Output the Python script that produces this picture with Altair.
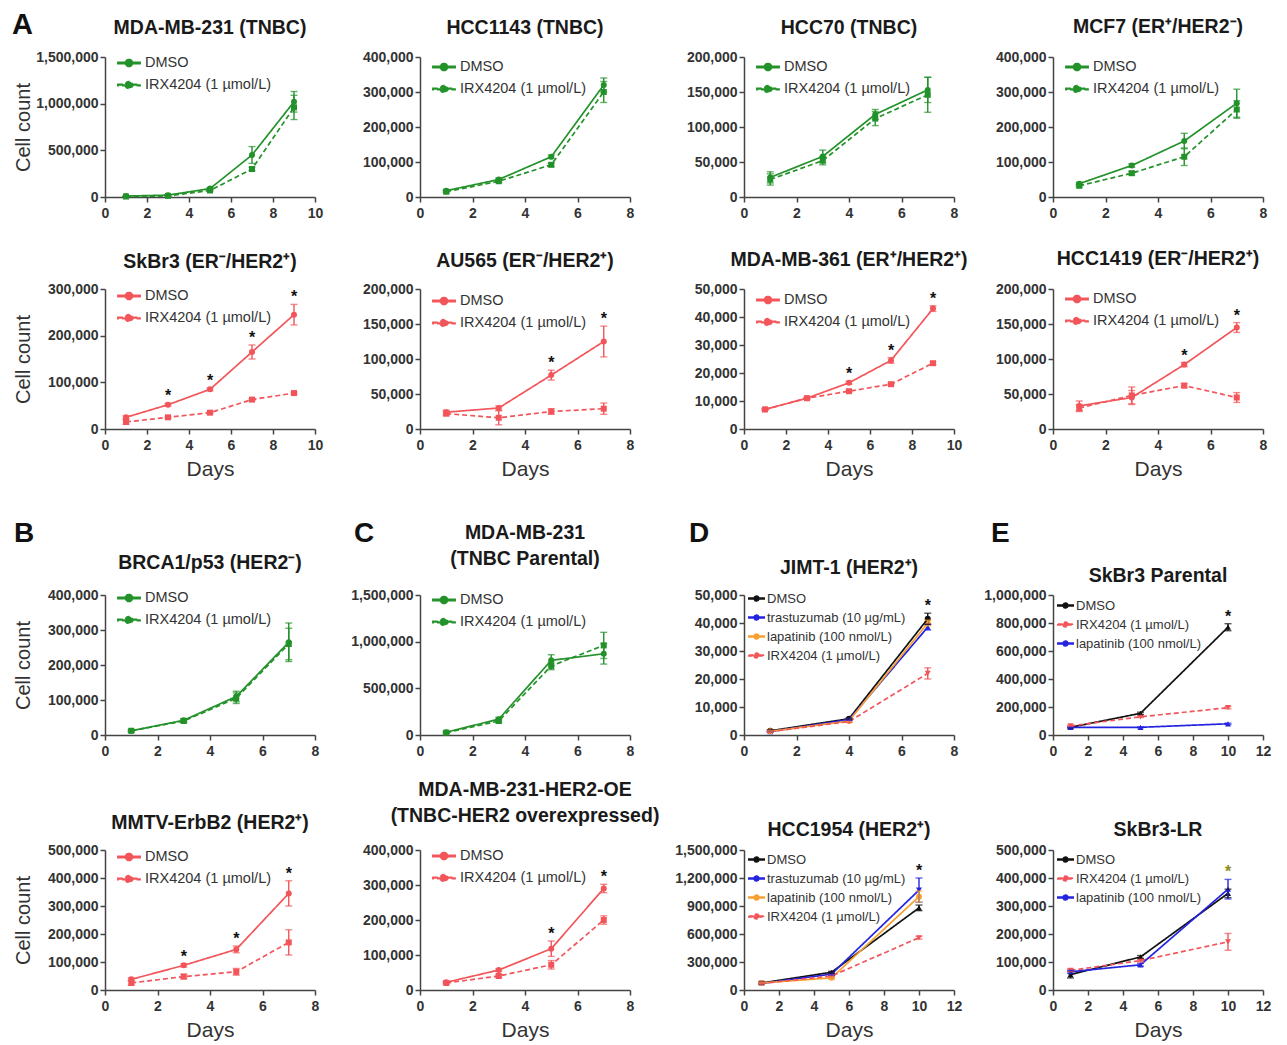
import altair as alt
import pandas as pd

FONT = "Liberation Sans"
GREEN = "#23922a"
RED = "#f2555a"
BLUE = "#2424e0"
ORANGE = "#f7a030"
BLACK = "#111111"
OLIVE = "#8c8c20"

# ---------------- data ----------------
DAYS_5 = [1, 3, 5, 7, 9]
DAYS_4 = [1, 3, 5, 7]
DAYS_JIMT = [1, 4, 7]
DAYS_3 = [1, 5, 10]

# A, row 1
MDA231_DMSO = [10000, 20000, 90000, 450000, 1020000]
MDA231_DMSO_ERR = [3000, 5000, 10000, 90000, 110000]
MDA231_IRX = [5000, 12000, 70000, 300000, 960000]
MDA231_IRX_ERR = [3000, 4000, 10000, 20000, 130000]

HCC1143_DMSO = [18000, 50000, 115000, 320000]
HCC1143_DMSO_ERR = [3000, 4000, 5000, 20000]
HCC1143_IRX = [15000, 45000, 92000, 300000]
HCC1143_IRX_ERR = [3000, 4000, 5000, 30000]

HCC70_DMSO = [28000, 58000, 118000, 153000]
HCC70_DMSO_ERR = [8000, 9000, 7000, 18000]
HCC70_IRX = [25000, 52000, 112000, 146000]
HCC70_IRX_ERR = [8000, 6000, 10000, 25000]

MCF7_DMSO = [38000, 90000, 160000, 268000]
MCF7_DMSO_ERR = [4000, 5000, 22000, 40000]
MCF7_IRX = [32000, 68000, 115000, 250000]
MCF7_IRX_ERR = [4000, 5000, 25000, 25000]

# A, row 2
SKBR3_DMSO = [25000, 52000, 85000, 165000, 245000]
SKBR3_DMSO_ERR = [3000, 3000, 3000, 15000, 22000]
SKBR3_IRX = [15000, 25000, 35000, 63000, 77000]
SKBR3_IRX_ERR = [5000, 2000, 2000, 2000, 2000]
SKBR3_STARS = [3, 5, 7, 9]

AU565_DMSO = [24000, 30000, 77000, 125000]
AU565_DMSO_ERR = [3000, 3000, 7000, 22000]
AU565_IRX = [22000, 16000, 25000, 29000]
AU565_IRX_ERR = [3000, 10000, 4000, 8000]
AU565_STARS = [5, 7]

MDA361_DMSO = [7000, 11000, 16500, 24500, 43000]
MDA361_DMSO_ERR = [300, 300, 500, 1000, 1000]
MDA361_IRX = [7000, 11000, 13500, 16000, 23500]
MDA361_IRX_ERR = [300, 300, 300, 300, 500]
MDA361_STARS = [5, 7, 9]

HCC1419_DMSO = [33000, 45000, 92000, 145000]
HCC1419_DMSO_ERR = [7000, 10000, 3000, 7000]
HCC1419_IRX = [30000, 48000, 62000, 45000]
HCC1419_IRX_ERR = [5000, 12000, 3000, 7000]
HCC1419_STARS = [5, 7]

# B
BRCA_DMSO = [12000, 42000, 110000, 265000]
BRCA_DMSO_ERR = [3000, 5000, 15000, 55000]
BRCA_IRX = [12000, 40000, 105000, 260000]
BRCA_IRX_ERR = [3000, 5000, 15000, 45000]

MMTV_DMSO = [38000, 88000, 145000, 345000]
MMTV_DMSO_ERR = [5000, 6000, 12000, 45000]
MMTV_IRX = [25000, 48000, 65000, 170000]
MMTV_IRX_ERR = [8000, 8000, 12000, 45000]
MMTV_STARS = [3, 5, 7]

# C
PAR231_DMSO = [30000, 170000, 800000, 870000]
PAR231_DMSO_ERR = [10000, 20000, 60000, 110000]
PAR231_IRX = [25000, 150000, 740000, 960000]
PAR231_IRX_ERR = [10000, 20000, 40000, 140000]

OE_DMSO = [22000, 57000, 118000, 290000]
OE_DMSO_ERR = [3000, 4000, 22000, 12000]
OE_IRX = [20000, 40000, 72000, 200000]
OE_IRX_ERR = [3000, 4000, 12000, 12000]
OE_STARS = [5, 7]

# D
JIMT_DMSO = [1500, 5800, 41500]
JIMT_DMSO_ERR = [300, 300, 2000]
JIMT_TRA = [1200, 5500, 38500]
JIMT_TRA_ERR = [200, 300, 1000]
JIMT_LAP = [1300, 5000, 40000]
JIMT_LAP_ERR = [200, 300, 1000]
JIMT_IRX = [1200, 4800, 22000]
JIMT_IRX_ERR = [200, 300, 2000]
JIMT_STARS = [7]

HCC1954_DMSO = [75000, 190000, 880000]
HCC1954_DMSO_ERR = [8000, 10000, 30000]
HCC1954_TRA = [70000, 170000, 1070000]
HCC1954_TRA_ERR = [5000, 10000, 130000]
HCC1954_LAP = [75000, 130000, 1000000]
HCC1954_LAP_ERR = [5000, 15000, 60000]
HCC1954_IRX = [70000, 150000, 560000]
HCC1954_IRX_ERR = [5000, 10000, 15000]
HCC1954_STARS = [10]

# E
SKPAR_DMSO = [55000, 155000, 770000]
SKPAR_DMSO_ERR = [5000, 8000, 25000]
SKPAR_IRX = [65000, 130000, 195000]
SKPAR_IRX_ERR = [5000, 5000, 8000]
SKPAR_LAP = [55000, 55000, 80000]
SKPAR_LAP_ERR = [3000, 3000, 5000]
SKPAR_STARS = [10]

SKLR_DMSO = [55000, 118000, 345000]
SKLR_DMSO_ERR = [12000, 5000, 15000]
SKLR_IRX = [70000, 105000, 172000]
SKLR_IRX_ERR = [5000, 5000, 30000]
SKLR_LAP = [65000, 90000, 360000]
SKLR_LAP_ERR = [5000, 5000, 35000]
SKLR_STARS = [10]

L_DMSO = "DMSO"
L_IRX = "IRX4204 (1 µmol/L)"
L_TRA = "trastuzumab (10 µg/mL)"
L_LAP = "lapatinib (100 nmol/L)"

SOLID = [1, 0]
DASH = [5, 3]

X8 = [0, 2, 4, 6, 8]
X10 = [0, 2, 4, 6, 8, 10]
X12 = [0, 2, 4, 6, 8, 10, 12]


def two(color, dmso, dmso_err, irx, irx_err):
    return [
        dict(name=L_DMSO, color=color, dash=SOLID, shape="circle", values=dmso, errors=dmso_err),
        dict(name=L_IRX, color=color, dash=DASH, shape="square", values=irx, errors=irx_err),
    ]


PANELS = {
    "p1": dict(title="MDA-MB-231 (TNBC)", days=DAYS_5, xmax=10, xticks=X10, ymax=1500000,
               yticks=[0, 500000, 1000000, 1500000],
               series=two(GREEN, MDA231_DMSO, MDA231_DMSO_ERR, MDA231_IRX, MDA231_IRX_ERR),
               stars=[], ytitle=True, xtitle=False, offset=12, small=False, ly=-6),
    "p2": dict(title="HCC1143 (TNBC)", days=DAYS_4, xmax=8, xticks=X8, ymax=400000,
               yticks=[0, 100000, 200000, 300000, 400000],
               series=two(GREEN, HCC1143_DMSO, HCC1143_DMSO_ERR, HCC1143_IRX, HCC1143_IRX_ERR),
               stars=[], ytitle=False, xtitle=False, offset=12, small=False, ly=-2),
    "p3": dict(title="HCC70 (TNBC)", days=DAYS_4, xmax=8, xticks=X8, ymax=200000,
               yticks=[0, 50000, 100000, 150000, 200000],
               series=two(GREEN, HCC70_DMSO, HCC70_DMSO_ERR, HCC70_IRX, HCC70_IRX_ERR),
               stars=[], ytitle=False, xtitle=False, offset=12, small=False, ly=-2),
    "p4": dict(title="MCF7 (ER⁺/HER2⁻)", days=DAYS_4, xmax=8, xticks=X8, ymax=400000,
               yticks=[0, 100000, 200000, 300000, 400000],
               series=two(GREEN, MCF7_DMSO, MCF7_DMSO_ERR, MCF7_IRX, MCF7_IRX_ERR),
               stars=[], ytitle=False, xtitle=False, offset=13, small=False, ly=-2),
    "p5": dict(title="SkBr3 (ER⁻/HER2⁺)", days=DAYS_5, xmax=10, xticks=X10, ymax=300000,
               yticks=[0, 100000, 200000, 300000],
               series=two(RED, SKBR3_DMSO, SKBR3_DMSO_ERR, SKBR3_IRX, SKBR3_IRX_ERR),
               stars=SKBR3_STARS, ytitle=True, xtitle=True, offset=10, small=False, ly=-5),
    "p6": dict(title="AU565 (ER⁻/HER2⁺)", days=DAYS_4, xmax=8, xticks=X8, ymax=200000,
               yticks=[0, 50000, 100000, 150000, 200000],
               series=two(RED, AU565_DMSO, AU565_DMSO_ERR, AU565_IRX, AU565_IRX_ERR),
               stars=AU565_STARS, ytitle=False, xtitle=True, offset=11, small=False, ly=0),
    "p7": dict(title="MDA-MB-361 (ER⁺/HER2⁺)", days=DAYS_5, xmax=10, xticks=X10, ymax=50000,
               yticks=[0, 10000, 20000, 30000, 40000, 50000],
               series=two(RED, MDA361_DMSO, MDA361_DMSO_ERR, MDA361_IRX, MDA361_IRX_ERR),
               stars=MDA361_STARS, ytitle=False, xtitle=True, offset=12, small=False, ly=-1),
    "p8": dict(title="HCC1419 (ER⁻/HER2⁺)", days=DAYS_4, xmax=8, xticks=X8, ymax=200000,
               yticks=[0, 50000, 100000, 150000, 200000],
               series=two(RED, HCC1419_DMSO, HCC1419_DMSO_ERR, HCC1419_IRX, HCC1419_IRX_ERR),
               stars=HCC1419_STARS, ytitle=False, xtitle=True, offset=13, small=False, ly=-2),
    "p9": dict(title="BRCA1/p53 (HER2⁻)", days=DAYS_4, xmax=8, xticks=X8, ymax=400000,
               yticks=[0, 100000, 200000, 300000, 400000],
               series=two(GREEN, BRCA_DMSO, BRCA_DMSO_ERR, BRCA_IRX, BRCA_IRX_ERR),
               stars=[], ytitle=True, xtitle=False, offset=13, small=False, ly=-9),
    "p10": dict(title=["MDA-MB-231", "(TNBC Parental)"], days=DAYS_4, xmax=8, xticks=X8, ymax=1500000,
                yticks=[0, 500000, 1000000, 1500000],
                series=two(GREEN, PAR231_DMSO, PAR231_DMSO_ERR, PAR231_IRX, PAR231_IRX_ERR),
                stars=[], ytitle=False, xtitle=False, offset=19, small=False, ly=-7),
    "p11": dict(title="JIMT-1 (HER2⁺)", days=DAYS_JIMT, xmax=8, xticks=X8, ymax=50000,
                yticks=[0, 10000, 20000, 30000, 40000, 50000],
                series=[
                    dict(name=L_DMSO, color=BLACK, dash=SOLID, shape="circle", values=JIMT_DMSO, errors=JIMT_DMSO_ERR),
                    dict(name=L_TRA, color=BLUE, dash=SOLID, shape="triangle-up", values=JIMT_TRA, errors=JIMT_TRA_ERR),
                    dict(name=L_LAP, color=ORANGE, dash=SOLID, shape="circle", values=JIMT_LAP, errors=JIMT_LAP_ERR),
                    dict(name=L_IRX, color=RED, dash=DASH, shape="triangle-down", values=JIMT_IRX, errors=JIMT_IRX_ERR),
                ],
                stars=JIMT_STARS, ytitle=False, xtitle=False, offset=10, small=True, ly=-5),
    "p12": dict(title="SkBr3 Parental", days=DAYS_3, xmax=12, xticks=X12, ymax=1000000,
                yticks=[0, 200000, 400000, 600000, 800000, 1000000],
                series=[
                    dict(name=L_DMSO, color=BLACK, dash=SOLID, shape="triangle-up", values=SKPAR_DMSO, errors=SKPAR_DMSO_ERR),
                    dict(name=L_IRX, color=RED, dash=DASH, shape="triangle-down", values=SKPAR_IRX, errors=SKPAR_IRX_ERR),
                    dict(name=L_LAP, color=BLUE, dash=SOLID, shape="triangle-up", values=SKPAR_LAP, errors=SKPAR_LAP_ERR),
                ],
                stars=SKPAR_STARS, ytitle=False, xtitle=False, offset=2, small=True, ly=2),
    "p13": dict(title="MMTV-ErbB2 (HER2⁺)", days=DAYS_4, xmax=8, xticks=X8, ymax=500000,
                yticks=[0, 100000, 200000, 300000, 400000, 500000],
                series=two(RED, MMTV_DMSO, MMTV_DMSO_ERR, MMTV_IRX, MMTV_IRX_ERR),
                stars=MMTV_STARS, ytitle=True, xtitle=True, offset=10, small=False, ly=-5),
    "p14": dict(title=["MDA-MB-231-HER2-OE", "(TNBC-HER2 overexpressed)"], days=DAYS_4, xmax=8, xticks=X8,
                ymax=400000, yticks=[0, 100000, 200000, 300000, 400000],
                series=two(RED, OE_DMSO, OE_DMSO_ERR, OE_IRX, OE_IRX_ERR),
                stars=OE_STARS, ytitle=False, xtitle=True, offset=17, small=False, ly=-6),
    "p15": dict(title="HCC1954 (HER2⁺)", days=DAYS_3, xmax=12, xticks=X12, ymax=1500000,
                yticks=[0, 300000, 600000, 900000, 1200000, 1500000],
                series=[
                    dict(name=L_DMSO, color=BLACK, dash=SOLID, shape="triangle-up", values=HCC1954_DMSO, errors=HCC1954_DMSO_ERR),
                    dict(name=L_TRA, color=BLUE, dash=SOLID, shape="triangle-down", values=HCC1954_TRA, errors=HCC1954_TRA_ERR),
                    dict(name=L_LAP, color=ORANGE, dash=SOLID, shape="circle", values=HCC1954_LAP, errors=HCC1954_LAP_ERR),
                    dict(name=L_IRX, color=RED, dash=DASH, shape="triangle-down", values=HCC1954_IRX, errors=HCC1954_IRX_ERR),
                ],
                stars=HCC1954_STARS, ytitle=False, xtitle=True, offset=3, small=True, ly=1),
    "p16": dict(title="SkBr3-LR", days=DAYS_3, xmax=12, xticks=X12, ymax=500000,
                yticks=[0, 100000, 200000, 300000, 400000, 500000],
                series=[
                    dict(name=L_DMSO, color=BLACK, dash=SOLID, shape="triangle-up", values=SKLR_DMSO, errors=SKLR_DMSO_ERR),
                    dict(name=L_IRX, color=RED, dash=DASH, shape="triangle-down", values=SKLR_IRX, errors=SKLR_IRX_ERR),
                    dict(name=L_LAP, color=BLUE, dash=SOLID, shape="triangle-up", values=SKLR_LAP, errors=SKLR_LAP_ERR),
                ],
                stars=SKLR_STARS, ytitle=False, xtitle=True, offset=3, small=True, ly=1, starcolor=OLIVE),
}

# panel letters: (text, font size, x, baseline y) relative to the spacer cell that holds them
LETTERS = {
    (0, 0): ("A", 29, -93, -22),
    (4, 0): ("B", 28, -91, 113),
    (4, 2): ("C", 28, -66, 113),
    (4, 4): ("D", 28, -55, 113),
    (4, 6): ("E", 28, -62, 113),
}

LEGEND_PATH = ("M-1,-0.07L-0.3,-0.07L-0.3,0.07L-1,0.07Z "
               "M0.3,-0.07L1,-0.07L1,0.07L0.3,0.07Z "
               "M-0.32,0A0.32,0.32,0,1,0,0.32,0A0.32,0.32,0,1,0,-0.32,0Z")

W = 210
H = 140
COL_GAPS = [105, 114, 99]
ROW_GAPS = [92, 166, 115]


def build_df(days, series):
    rows = []
    for s in series:
        for d, v, e in zip(days, s["values"], s["errors"]):
            rows.append({"day": d, "value": v, "lo": v - e, "hi": v + e, "series": s["name"]})
    return pd.DataFrame(rows)


def make_panel(p):
    df = build_df(p["days"], p["series"])
    names = [s["name"] for s in p["series"]]
    cscale = alt.Scale(domain=names, range=[s["color"] for s in p["series"]])
    dscale = alt.Scale(domain=names, range=[s["dash"] for s in p["series"]])

    xaxis = alt.Axis(values=p["xticks"], title="Days" if p["xtitle"] else None, format="d",
                     labelFontSize=14, labelPadding=4, titlePadding=6, titleFontSize=21)
    yargs = dict(values=p["yticks"], format=",d", labelFontSize=14, labelPadding=2)
    if p["ytitle"]:
        yargs.update(title="Cell count", minExtent=65, maxExtent=65, titlePadding=7, titleFontSize=20)
    else:
        yargs.update(title=None)
    yaxis = alt.Axis(**yargs)
    xs = alt.Scale(domain=[0, p["xmax"]], nice=False)
    ys = alt.Scale(domain=[0, p["ymax"]], nice=False)
    X = alt.X("day:Q", scale=xs, axis=xaxis)

    def Y(field):
        return alt.Y(field, type="quantitative", scale=ys, axis=yaxis)

    if p["small"]:
        legend = alt.Legend(title=None, orient="none", legendX=4, legendY=p["ly"], symbolType=LEGEND_PATH,
                            symbolSize=240, labelFontSize=13, labelOffset=2, rowPadding=3,
                            padding=0, labelFont=FONT, labelColor="#333333")
    else:
        legend = alt.Legend(title=None, orient="none", legendX=12, legendY=p["ly"], symbolType=LEGEND_PATH,
                            symbolSize=500, labelFontSize=14.5, labelOffset=4, rowPadding=3,
                            padding=0, labelFont=FONT, labelColor="#333333")

    col = alt.Color("series:N", scale=cscale, legend=legend)
    base = alt.Chart(df)
    layers = []
    for s in p["series"]:
        layers.append(
            base.transform_filter(alt.datum.series == s["name"])
            .mark_point(filled=True, size=36, opacity=1, shape=s["shape"])
            .encode(x=X, y=Y("value"), color=col)
        )
    lines = base.mark_line(strokeWidth=1.7).encode(
        x=X, y=Y("value"), color=col,
        strokeDash=alt.StrokeDash("series:N", scale=dscale, legend=None))
    rules = base.mark_rule(strokeWidth=1.4).encode(x=X, y=Y("lo"), y2="hi:Q", color=col)
    cap_hi = base.mark_tick(orient="horizontal", size=7, thickness=1.4).encode(x=X, y=Y("hi"), color=col)
    cap_lo = base.mark_tick(orient="horizontal", size=7, thickness=1.4).encode(x=X, y=Y("lo"), color=col)
    layers += [lines, rules, cap_hi, cap_lo]
    if p["stars"]:
        sdf = pd.DataFrame({"day": p["stars"],
                            "value": [df[df.day == d]["hi"].max() for d in p["stars"]]})
        stars = alt.Chart(sdf).mark_text(text="*", fontSize=16, fontWeight="bold", baseline="middle",
                                         dy=-7, color=p.get("starcolor", BLACK)).encode(x=X, y=Y("value"))
        layers.append(stars)
    title = alt.TitleParams(text=p["title"], fontSize=19.5, fontWeight="bold", font=FONT, color="#1a1a1a",
                            anchor="middle", frame="group", offset=p["offset"], lineHeight=26)
    return alt.layer(*layers).properties(width=W, height=H, title=title)


def spacer(w, h, letter=None):
    if letter is None:
        return alt.Chart(pd.DataFrame({"v": [0]})).mark_point(opacity=0).properties(width=w, height=h)
    text, size, lx, ly = letter
    return alt.Chart(pd.DataFrame({"letter": [text]})).mark_text(
        align="left", baseline="alphabetic", fontSize=size, fontWeight="bold", font=FONT, color="#111111"
    ).encode(x=alt.value(lx), y=alt.value(ly), text="letter:N").properties(width=w, height=h)


GRID = [["p1", "p2", "p3", "p4"],
        ["p5", "p6", "p7", "p8"],
        ["p9", "p10", "p11", "p12"],
        ["p13", "p14", "p15", "p16"]]

col_widths = [W, COL_GAPS[0], W, COL_GAPS[1], W, COL_GAPS[2], W]
row_kinds = [("gap", 1), ("panels", 0), ("gap", ROW_GAPS[0]), ("panels", 1),
             ("gap", ROW_GAPS[1]), ("panels", 2), ("gap", ROW_GAPS[2]), ("panels", 3)]
cells = []
for gr, (kind, val) in enumerate(row_kinds):
    if kind == "gap":
        for gc, w in enumerate(col_widths):
            cells.append(spacer(w, val, LETTERS.get((gr, gc))))
    else:
        for c, key in enumerate(GRID[val]):
            cells.append(make_panel(PANELS[key]))
            if c < 3:
                cells.append(spacer(COL_GAPS[c], H))

chart = alt.concat(*cells, columns=7, spacing=0, bounds="flush", align="each").resolve_scale(
    color="independent", strokeDash="independent"
).properties(
    padding={"left": 4, "top": 3, "right": 5, "bottom": 2}
).configure_view(strokeWidth=0).configure_axis(
    grid=False, domainColor="#444444", domainWidth=1.5, tickColor="#444444", tickWidth=1.5, tickSize=5,
    labelFont=FONT, labelFontWeight="bold", labelColor="#333333", labelFlush=False,
    titleFont=FONT, titleFontWeight="normal", titleColor="#333333"
)

chart.save("out.html", embed_options={"renderer": "svg", "actions": False})
